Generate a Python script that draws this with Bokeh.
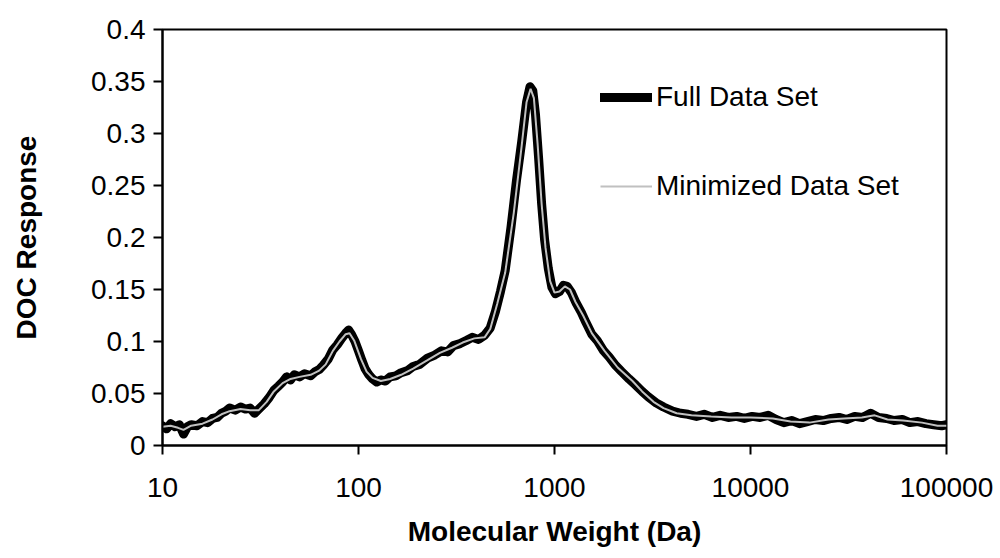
from bokeh.plotting import figure
from bokeh.models import (Range1d, FixedTicker, CustomJSTickFormatter, Legend, LegendItem)
from bokeh.embed import file_html
from bokeh.resources import INLINE

# Full Data Set (molecular weight in Da, DOC response)
full_mw = [10, 10.5, 11, 11.6, 12.2, 12.8, 13.4, 14, 15, 16, 17, 18, 19, 20, 21, 22, 23.5, 25, 26.5, 28,
           29.5, 31, 33, 35, 37, 39, 41, 43, 45, 47, 50, 53, 57, 60, 63, 66, 70, 74, 78, 82,
           86, 89, 92, 96, 100, 104, 108, 113, 118, 124, 130, 137, 145, 155, 165, 178, 190, 205, 225, 245,
           265, 285, 305, 330, 355, 380, 410, 440, 470, 500, 530, 560, 600, 640, 680, 720, 750, 775, 800, 830,
           860, 890, 930, 970, 1010, 1060, 1110, 1160, 1220, 1290, 1370, 1450, 1550, 1650, 1780, 1900, 2050, 2200, 2400, 2600,
           2800, 3000, 3300, 3600, 4000, 4400, 4800, 5300, 5800, 6400, 7000, 7700, 8500, 9300, 10200, 11200, 12300, 13500, 14800, 16200,
           17800, 19500, 21400, 23500, 25800, 28300, 31000, 34000, 37300, 41000, 45000, 49500, 54000, 59500, 65000, 71500, 78500, 86000, 94500, 100000]
full_doc = [0.019, 0.016, 0.021, 0.018, 0.020, 0.011, 0.018, 0.020, 0.019, 0.023, 0.022, 0.026, 0.027, 0.031, 0.033, 0.036, 0.034, 0.037, 0.035, 0.036,
            0.031, 0.035, 0.040, 0.046, 0.053, 0.057, 0.061, 0.066, 0.063, 0.068, 0.066, 0.069, 0.067, 0.071, 0.073, 0.077, 0.083, 0.092, 0.097, 0.103,
            0.108, 0.111, 0.107, 0.100, 0.091, 0.082, 0.074, 0.068, 0.064, 0.061, 0.063, 0.062, 0.066, 0.067, 0.070, 0.072, 0.076, 0.078, 0.084, 0.087,
            0.091, 0.090, 0.096, 0.098, 0.101, 0.104, 0.102, 0.106, 0.113, 0.129, 0.148, 0.168, 0.210, 0.255, 0.292, 0.330, 0.345, 0.341, 0.318, 0.276,
            0.232, 0.198, 0.170, 0.152, 0.146, 0.148, 0.154, 0.153, 0.147, 0.137, 0.128, 0.118, 0.107, 0.101, 0.091, 0.085, 0.077, 0.071, 0.064, 0.058,
            0.052, 0.047, 0.041, 0.037, 0.033, 0.031, 0.030, 0.028, 0.030, 0.027, 0.029, 0.027, 0.028, 0.026, 0.028, 0.027, 0.029, 0.025, 0.022, 0.024,
            0.021, 0.023, 0.025, 0.024, 0.026, 0.027, 0.025, 0.028, 0.027, 0.031, 0.027, 0.026, 0.024, 0.025, 0.022, 0.023, 0.021, 0.020, 0.019, 0.020]

# Minimized Data Set
min_mw = [10, 11, 12, 12.8, 14, 16, 18, 20, 22, 25, 28, 31, 34, 37, 41, 45, 50, 57, 63, 68,
          74, 80, 86, 90, 95, 103, 110, 118, 130, 145, 165, 190, 225, 260, 300, 340, 390, 440, 470, 510,
          560, 620, 680, 720, 755, 785, 820, 860, 900, 950, 1000, 1060, 1130, 1200, 1280, 1400, 1550, 1800, 2100, 2500,
          2800, 3200, 3600, 4200, 5000, 6300, 8000, 10000, 13000, 16000, 20000, 25000, 30000, 37000, 43000, 50000, 60000, 75000, 90000, 100000]
min_doc = [0.018, 0.019, 0.017, 0.015, 0.019, 0.021, 0.025, 0.030, 0.033, 0.035, 0.034, 0.034, 0.042, 0.052, 0.060, 0.064, 0.066, 0.068, 0.072, 0.078,
           0.091, 0.100, 0.107, 0.108, 0.101, 0.083, 0.071, 0.065, 0.062, 0.064, 0.068, 0.074, 0.082, 0.089, 0.094, 0.099, 0.103, 0.104, 0.112, 0.136,
           0.166, 0.224, 0.288, 0.330, 0.343, 0.334, 0.290, 0.232, 0.190, 0.158, 0.147, 0.148, 0.153, 0.150, 0.138, 0.125, 0.108, 0.091, 0.075, 0.062,
           0.052, 0.042, 0.036, 0.031, 0.029, 0.028, 0.027, 0.027, 0.026, 0.023, 0.022, 0.025, 0.026, 0.027, 0.029, 0.025, 0.024, 0.022, 0.019, 0.019]

x_ticks = [10, 100, 1000, 10000, 100000]
y_ticks = [0, 0.05, 0.1, 0.15, 0.2, 0.25, 0.3, 0.35, 0.4]

FONT = "Liberation Sans"

p = figure(width=1000, height=558, x_axis_type="log", output_backend="svg", toolbar_location=None,
           x_range=Range1d(10, 100000), y_range=Range1d(0, 0.4),
           min_border_left=162, min_border_right=54, min_border_top=29, min_border_bottom=113)
p.background_fill_color = "white"
p.border_fill_color = "white"
p.outline_line_color = "black"
p.outline_line_width = 2
p.xgrid.visible = False
p.ygrid.visible = False

r_full = p.line(full_mw, full_doc, line_color="black", line_width=9, line_join="round", line_cap="round")
r_min = p.line(min_mw, min_doc, line_color="#c0c0c0", line_width=2)

for ax in (p.xaxis[0], p.yaxis[0]):
    ax.axis_line_color = "black"
    ax.axis_line_width = 2
    ax.major_tick_line_color = "black"
    ax.major_tick_line_width = 2
    ax.major_tick_in = 0
    ax.major_tick_out = 9
    ax.minor_tick_line_color = None
    ax.major_label_text_font = FONT
    ax.major_label_text_font_size = "28px"
    ax.major_label_text_color = "black"
    ax.axis_label_text_font = FONT
    ax.axis_label_text_font_size = "28px"
    ax.axis_label_text_font_style = "bold"
    ax.axis_label_text_color = "black"

p.xaxis[0].ticker = FixedTicker(ticks=x_ticks)
p.xaxis[0].formatter = CustomJSTickFormatter(code="return String(Math.round(tick));")
p.xaxis[0].major_label_standoff = 23
p.xaxis[0].axis_label = "Molecular Weight (Da)"
p.xaxis[0].axis_label_standoff = 16
p.yaxis[0].ticker = FixedTicker(ticks=y_ticks)
p.yaxis[0].formatter = CustomJSTickFormatter(code="return String(+tick.toFixed(2));")
p.yaxis[0].major_label_standoff = 8
p.yaxis[0].axis_label = "DOC Response"
p.yaxis[0].axis_label_standoff = 46

legend = Legend(items=[LegendItem(label="Full Data Set", renderers=[r_full]),
                       LegendItem(label="Minimized Data Set", renderers=[r_min])],
                location=(438, 243), orientation="vertical",
                glyph_width=52, glyph_height=30, label_height=30, label_standoff=4,
                spacing=57, padding=0, margin=0,
                label_text_font=FONT, label_text_font_size="28px", label_text_color="black",
                label_text_baseline="middle",
                border_line_color=None, background_fill_alpha=0)
p.add_layout(legend)

open("out.html", "w").write(file_html(p, INLINE))
